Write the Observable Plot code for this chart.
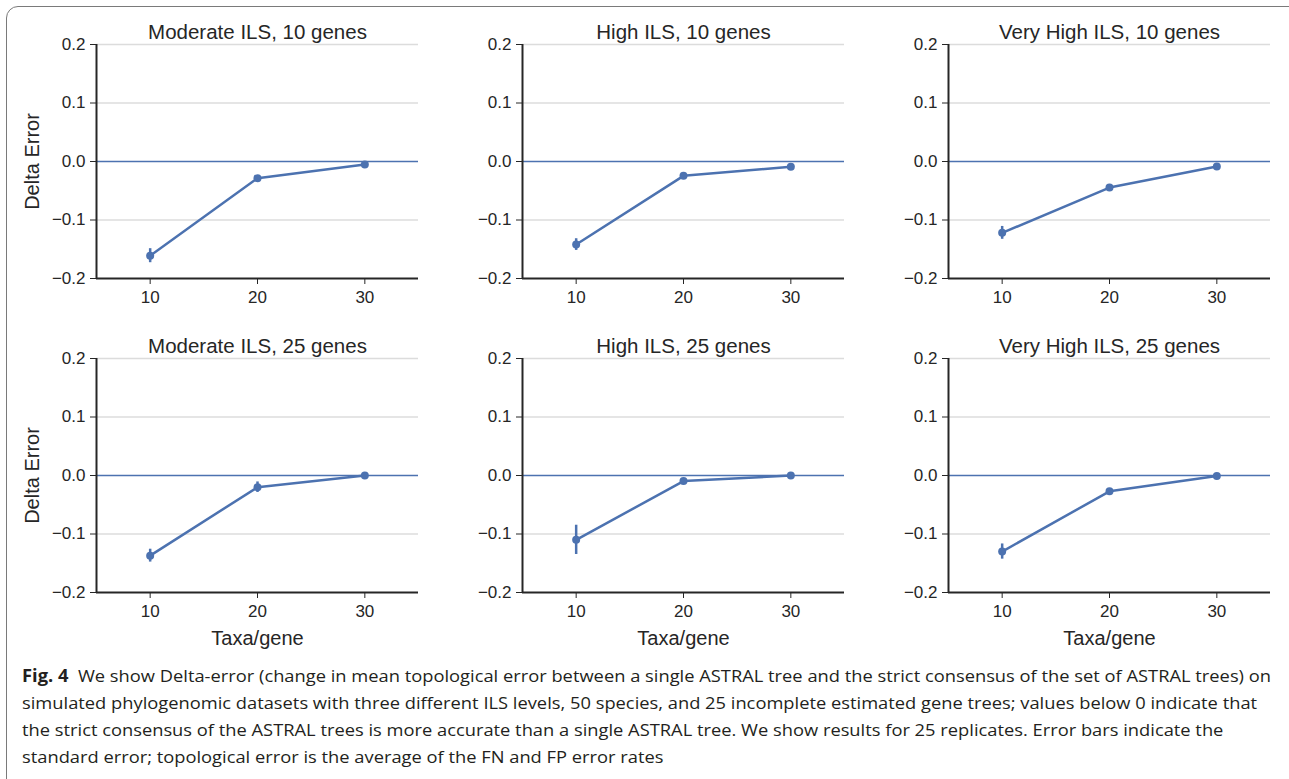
<!DOCTYPE html>
<html>
<head>
<meta charset="utf-8">
<script src="https://cdn.jsdelivr.net/npm/d3@7"></script>
<script src="https://cdn.jsdelivr.net/npm/@observablehq/plot@0.6"></script>
<style>
  html, body { margin: 0; padding: 0; background: #fff; }
  #root { position: relative; width: 1289px; height: 779px; overflow: hidden; background: #fff; }
  #frame { position: absolute; left: 6px; top: 6px; width: 1320px; height: 820px;
           border: 1.5px solid #7a7a7a; border-radius: 12px; box-sizing: border-box; }
  .panel { position: absolute; }
  .panel g[aria-label$="tick label"] { font-size: 17px; }
  .panel g[aria-label$="axis label"] { font-size: 20px; }
  #caption { position: absolute; left: 22px; top: 662px; font-family: "Open Sans", sans-serif;
             font-size: 17px; line-height: 27px; color: #231f20; white-space: pre;
             transform-origin: 0 0; }
  #caption b { font-weight: 700; }
</style>
</head>
<body>
<div id="root">
  <div id="frame"></div>
  <div id="caption"></div>
</div>
<script>
// ---- data ----
const xValues = [10, 20, 30];
const panelTitles = [
  "Moderate ILS, 10 genes", "High ILS, 10 genes", "Very High ILS, 10 genes",
  "Moderate ILS, 25 genes", "High ILS, 25 genes", "Very High ILS, 25 genes"
];
const meanModerate10 = [-0.161, -0.0285, -0.005];
const meanHigh10     = [-0.142, -0.0245, -0.009];
const meanVeryHigh10 = [-0.122, -0.0445, -0.0085];
const meanModerate25 = [-0.137, -0.020, 0.0];
const meanHigh25     = [-0.110, -0.0095, 0.0];
const meanVeryHigh25 = [-0.130, -0.027, -0.001];
const seModerate10 = [0.012, 0.003, 0.002];
const seHigh10     = [0.010, 0.003, 0.002];
const seVeryHigh10 = [0.011, 0.003, 0.002];
const seModerate25 = [0.011, 0.009, 0.001];
const seHigh25     = [0.025, 0.002, 0.001];
const seVeryHigh25 = [0.013, 0.002, 0.002];
const panelMeans = [meanModerate10, meanHigh10, meanVeryHigh10, meanModerate25, meanHigh25, meanVeryHigh25];
const panelSEs = [seModerate10, seHigh10, seVeryHigh10, seModerate25, seHigh25, seVeryHigh25];
const yTicks = [-0.2, -0.1, 0.0, 0.1, 0.2];
const gridTicks = [-0.1, 0.1, 0.2];
const xDomain = [5, 35];
const yDomain = [-0.2, 0.2];
const yLabel = "Delta Error";
const xLabel = "Taxa/gene";
const captionLines = [
  ["Fig. 4", "  We show Delta-error (change in mean topological error between a single ASTRAL tree and the strict consensus of the set of ASTRAL trees) on"],
  ["", "simulated phylogenomic datasets with three different ILS levels, 50 species, and 25 incomplete estimated gene trees; values below 0 indicate that"],
  ["", "the strict consensus of the ASTRAL trees is more accurate than a single ASTRAL tree. We show results for 25 replicates. Error bars indicate the"],
  ["", "standard error; topological error is the average of the FN and FP error rates"]
];

// ---- layout ----
const blue = "#4C72B0";
const ink = "#262626";
const mL = 90, mR = 14, mT = 44, plotW = 322, plotH = 234;
const colLeft = [96, 522, 948];
const rowTop = [44, 358];

const root = document.getElementById("root");

panelTitles.forEach((title, i) => {
  const col = i % 3, row = Math.floor(i / 3);
  const data = xValues.map((x, j) => ({x, mean: panelMeans[i][j], se: panelSEs[i][j]}));
  const bottomRow = row === 1;
  const mB = bottomRow ? 62 : 40;
  const chart = Plot.plot({
    width: mL + plotW + mR,
    height: mT + plotH + mB,
    marginLeft: mL, marginRight: mR, marginTop: mT, marginBottom: mB,
    style: {fontFamily: "'Liberation Sans', Arial, sans-serif", fontSize: "17px", color: ink, background: "transparent", overflow: "visible"},
    x: {domain: xDomain, ticks: xValues, tickSize: 6, tickPadding: 6, tickFormat: d3.format("d"),
        label: bottomRow ? xLabel : null, labelAnchor: "center", labelOffset: 52, labelArrow: "none"},
    y: {domain: yDomain, ticks: yTicks, tickSize: 6, tickPadding: 5, tickFormat: d3.format(".1f"),
        label: col === 0 ? yLabel : null, labelAnchor: "center", labelOffset: 72, labelArrow: "none"},
    marks: [
      Plot.ruleY(gridTicks, {stroke: "#dcdcdc", strokeWidth: 1.3}),
      Plot.ruleY([0], {stroke: blue, strokeWidth: 1.3}),
      Plot.ruleX([xDomain[0]], {stroke: ink, strokeWidth: 2}),
      Plot.ruleY([yDomain[0]], {stroke: ink, strokeWidth: 2}),
      Plot.ruleX(data, {x: "x", y1: d => d.mean - d.se, y2: d => d.mean + d.se, stroke: blue, strokeWidth: 2.5}),
      Plot.line(data, {x: "x", y: "mean", stroke: blue, strokeWidth: 2.5}),
      Plot.dot(data, {x: "x", y: "mean", r: 4, fill: blue, stroke: "none"}),
      Plot.text([title], {frameAnchor: "top", dy: -20, fontSize: 20.5, fill: ink})
    ]
  });
  chart.classList.add("panel");
  chart.style.left = (colLeft[col] - mL) + "px";
  chart.style.top = (rowTop[row] - mT) + "px";
  root.appendChild(chart);
});

// caption
const cap = document.getElementById("caption");
captionLines.forEach(([bold, rest], k) => {
  const div = document.createElement("div");
  const span = document.createElement("span");
  if (bold) {
    const b = document.createElement("b");
    b.textContent = bold;
    span.appendChild(b);
  }
  span.appendChild(document.createTextNode(rest));
  div.appendChild(span);
  cap.appendChild(div);
});
const w = cap.firstChild.firstChild.getBoundingClientRect().width;
cap.style.transform = `scaleX(${1249 / w})`;
</script>
</body>
</html>
